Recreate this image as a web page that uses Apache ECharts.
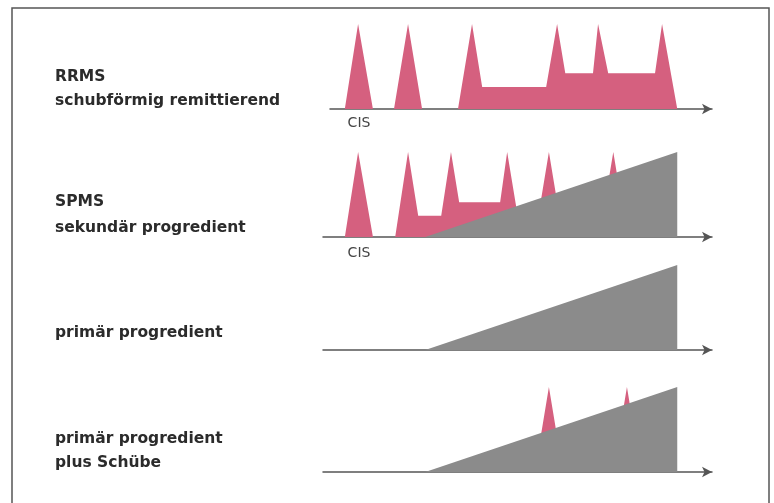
<!DOCTYPE html>
<html>
<head>
<meta charset="utf-8">
<script src="https://cdn.jsdelivr.net/npm/echarts@6/dist/echarts.min.js"></script>
<style>
html,body{margin:0;padding:0;background:#fff;}
#chart{width:774px;height:503px;}
</style>
</head>
<body>
<div id="chart"></div>
<script>
// Time axis in arbitrary units (0..99.7), disease activity 0..100
const rrmsRelapses = [[5.6,0],[9.0,100],[12.8,0],[18.2,0],[21.8,100],[25.4,0],[34.6,0],[38.2,100],[40.8,26],[57.2,26],[60.0,100],[62.1,42],[69.2,42],[70.5,100],[73.1,42],[85.1,42],[86.9,100],[90.8,0]];
const spmsRelapses = [[5.6,0],[9.0,100],[12.8,0],[18.5,0],[21.8,100],[24.4,25],[30.3,25],[32.8,100],[34.9,41],[45.4,41],[47.2,100],[50.8,0],[54.3,0],[57.9,100],[61.5,0],[70.8,0],[74.4,100],[78.0,0]];
const progression = [[26.2,0],[90.8,100],[90.8,0]];
const pprmsRelapses = [[54.3,0],[57.9,100],[61.5,0],[74.3,0],[77.9,100],[81.5,0]];
const panelLabels = [
  ['RRMS', 'schubförmig remittierend'],
  ['SPMS', 'sekundär progredient'],
  ['primär progredient'],
  ['primär progredient', 'plus Schübe']
];
const onsetLabel = 'CIS';

const PINK = '#d5607f';
const GREY = '#8b8b8b';

const chart = echarts.init(document.getElementById('chart'), null, {renderer:'canvas'});

const grids = [
  {left:330, top:24, width:382, height:85},
  {left:323, top:152, width:389, height:85},
  {left:323, top:265, width:389, height:85},
  {left:323, top:387, width:389, height:85}
];
const xMins = [1.8, 0, 0, 0];
const xMax = 99.7;

const xAxes = grids.map((g,i)=>({
  type:'value', gridIndex:i, min:xMins[i], max:xMax,
  axisLine:{show:true, lineStyle:{color:'#555', width:1.5}, symbol:['none','arrow'], symbolSize:[8,10]},
  axisTick:{show:false}, axisLabel:{show:false}, splitLine:{show:false}
}));
const yAxes = grids.map((g,i)=>({
  type:'value', gridIndex:i, min:0, max:100, show:false
}));

function area(data, idx, color, z){
  return {
    type:'line', xAxisIndex:idx, yAxisIndex:idx, data:data,
    showSymbol:false, symbol:'none', smooth:false, silent:true, z:z,
    lineStyle:{width:0, color:color}, itemStyle:{color:color},
    areaStyle:{color:color, opacity:1}
  };
}

const series = [
  area(rrmsRelapses, 0, PINK, 2),
  area(spmsRelapses, 1, PINK, 2),
  area(progression, 1, GREY, 3),
  area(progression, 2, GREY, 3),
  area(pprmsRelapses, 3, PINK, 2),
  area(progression, 3, GREY, 3)
];

const labelY = [[77,101],[202,228],[333],[439,463]];
const font = {fontFamily:'DejaVu Sans', fontWeight:'bold', fontSize:15.5, fill:'#2b2b2b'};
const graphics = [
  {type:'rect', shape:{x:12, y:8, width:757, height:520}, style:{fill:'none', stroke:'#555', lineWidth:1.5}, silent:true, z:0}
];
panelLabels.forEach((lines, p)=>{
  lines.forEach((t, k)=>{
    graphics.push({type:'text', x:55, y:labelY[p][k], silent:true,
      style:Object.assign({text:t, align:'left', verticalAlign:'middle'}, font)});
  });
});
[123, 253].forEach(y=>{
  graphics.push({type:'text', x:359, y:y, silent:true,
    style:{text:onsetLabel, align:'center', verticalAlign:'middle', fontFamily:'DejaVu Sans', fontSize:14, fill:'#444'}});
});

chart.setOption({
  animation:false,
  backgroundColor:'#fff',
  grid:grids,
  xAxis:xAxes,
  yAxis:yAxes,
  series:series,
  graphic:graphics
});
</script>
</body>
</html>
